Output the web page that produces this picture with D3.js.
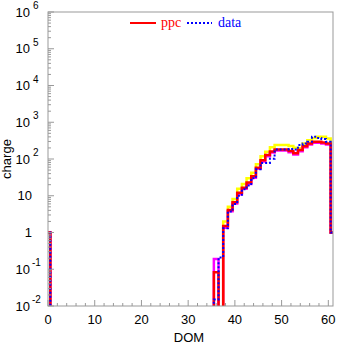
<!DOCTYPE html>
<html><head><meta charset="utf-8">
<script src="https://cdn.jsdelivr.net/npm/d3@7"></script>
<style>body{margin:0;background:#fff}svg{display:block}</style>
</head><body><svg id="c" width="337" height="344"></svg>
<script>
// DOM bins 0..61 (bins centred on integers)
const dom = d3.range(0, 62);
function fill(pairs){ const a = new Array(62).fill(0); for (const [k,v] of Object.entries(pairs)) a[+k]=v; return a; }
const ppc = fill({0:1,36:0.083,37:0,38:1.5,39:4.1,40:6.7,41:12,42:16.5,43:23,44:34,45:58,46:92,47:128,48:160,49:182,50:182,51:182,52:165,53:143,54:175,55:224,56:265,57:293,58:293,59:280,60:265,61:1});
const ppcLow = fill({0:1,36:0.19,37:0,38:1.35,39:3.8,40:6.2,41:11,42:15.5,43:21,44:31,45:54,46:86,47:118,48:150,49:170,50:170,51:170,52:152,53:132,54:162,55:210,56:250,57:275,58:275,59:265,60:250,61:1});
const ppcHigh = fill({0:1,36:0,37:0,38:2.0,39:5.0,40:8.2,41:15.5,42:21,43:30,44:42,45:72,46:118,47:158,48:210,49:239,50:239,51:239,52:225,53:202,54:195,55:265,56:326,57:375,58:400,59:400,60:363,61:1});
const data = fill({0:1,36:0.015,37:0.21,38:1.3,39:3.7,40:6.0,41:10,42:15,43:19,44:30,45:53,46:78,47:78,48:102,49:180,50:182,51:182,52:187,53:182,54:239,55:265,56:293,57:400,58:375,59:350,60:293,61:1});
const xMajor = [0,10,20,30,40,50,60];
const yExp = [-2,-1,0,1,2,3,4,5,6];

const svg = d3.select("#c");
const L=48, R=333, T=12, B=306;
const x = d3.scaleLinear().domain([0,61]).range([L,R]);
const y = d3.scaleLog().domain([1e-2,1e6]).range([B,T]);
const yv = v => v>0 ? y(v) : B+20;

svg.append("rect").attr("width",337).attr("height",344).attr("fill","#fff");
svg.append("defs").append("clipPath").attr("id","clip").append("rect")
  .attr("x",L).attr("y",T).attr("width",R-L).attr("height",B-T);

function stepPts(vals){
  const pts=[];
  vals.forEach((v,i)=>{ pts.push([x(dom[i]-0.5), yv(v)]); pts.push([x(dom[i]+0.5), yv(v)]); });
  return pts;
}
const line = d3.line();
const g = svg.append("g").attr("clip-path","url(#clip)");
g.append("path").attr("d",line(stepPts(ppcHigh))).attr("fill","none").attr("stroke","#ffff00").attr("stroke-width",2.5);
g.append("path").attr("d",line(stepPts(ppcLow))).attr("fill","none").attr("stroke","#ff00ff").attr("stroke-width",2.5);
g.append("path").attr("d",line(stepPts(ppc))).attr("fill","none").attr("stroke","#ff0000").attr("stroke-width",2.5);
g.append("path").attr("d",line(stepPts(data))).attr("fill","none").attr("stroke","#0000ff").attr("stroke-width",2).attr("stroke-dasharray","2,2");

// frame
svg.append("rect").attr("x",L).attr("y",T).attr("width",R-L).attr("height",B-T)
  .attr("fill","none").attr("stroke","#999").attr("stroke-width",1);

// x axis ticks
const xMinor = d3.range(0,61,2);
const ax = svg.append("g").attr("stroke","#999");
xMinor.forEach(v=>{ const len = xMajor.includes(v)?6:3;
  ax.append("line").attr("x1",x(v)).attr("x2",x(v)).attr("y1",B).attr("y2",B-len); });
// y axis ticks
yExp.forEach(e=>{
  ax.append("line").attr("x1",L).attr("x2",L+6).attr("y1",y(Math.pow(10,e))).attr("y2",y(Math.pow(10,e)));
  if (e<6) for (let m=2;m<10;m++){ const v=m*Math.pow(10,e);
    ax.append("line").attr("x1",L).attr("x2",L+3).attr("y1",y(v)).attr("y2",y(v)); }
});

const font = "Liberation Sans, Arial, sans-serif";
// x tick labels
svg.append("g").selectAll("text").data(xMajor).join("text")
  .attr("x",d=>x(d)).attr("y",324).attr("text-anchor","middle")
  .attr("font-family",font).attr("font-size",13).text(d=>d);
// y tick labels
const yl = svg.append("g").attr("font-family",font).attr("font-size",13);
yExp.forEach(e=>{
  const yy = y(Math.pow(10,e));
  if (e===0 || e===1){
    yl.append("text").attr("x",32).attr("y",yy+4.5).attr("text-anchor","end").text(e===0?"1":"10");
  } else {
    yl.append("text").attr("x",30).attr("y",yy+4.5).attr("text-anchor","end").text("10");
    yl.append("text").attr("x",e<0?32:33).attr("y",yy-3).attr("font-size",10).text(String(e));
  }
});
// axis titles
svg.append("text").attr("x",189).attr("y",342).attr("text-anchor","middle")
  .attr("font-family",font).attr("font-size",13).text("DOM");
svg.append("text").attr("transform","translate(11,159) rotate(-90)").attr("text-anchor","middle")
  .attr("font-family",font).attr("font-size",13).text("charge");

// legend
const lg = svg.append("g");
lg.append("line").attr("x1",130).attr("x2",156).attr("y1",23).attr("y2",23).attr("stroke","#ff0000").attr("stroke-width",2);
lg.append("text").attr("x",161).attr("y",27).attr("fill","#ff0000").attr("font-family","Liberation Serif, Times New Roman, serif").attr("font-size",14).text("ppc");
lg.append("line").attr("x1",187).attr("x2",212).attr("y1",23).attr("y2",23).attr("stroke","#0000ff").attr("stroke-width",2).attr("stroke-dasharray","2,2");
lg.append("text").attr("x",218).attr("y",27).attr("fill","#0000ff").attr("font-family","Liberation Serif, Times New Roman, serif").attr("font-size",14).text("data");
</script></body></html>
